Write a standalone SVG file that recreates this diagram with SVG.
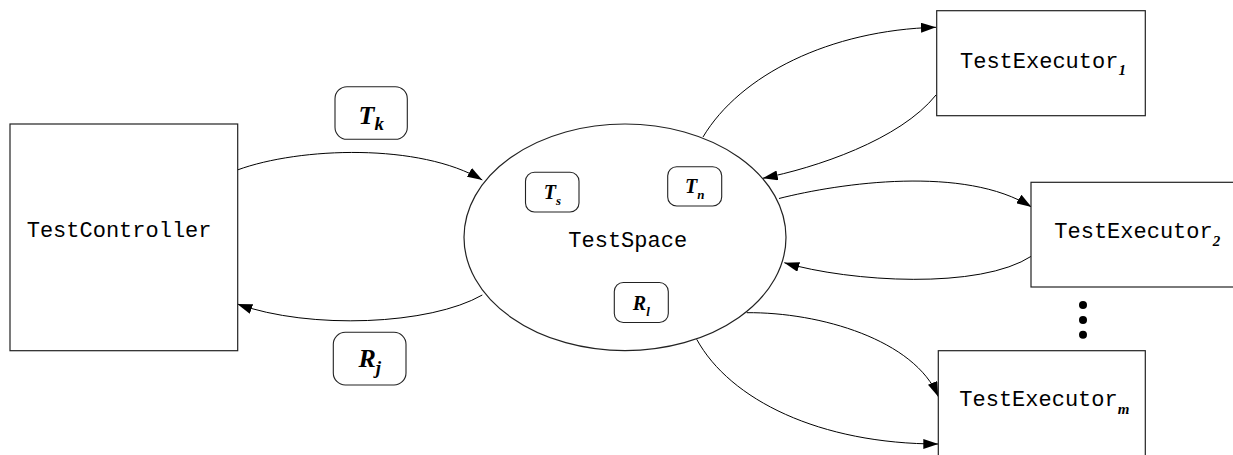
<svg xmlns="http://www.w3.org/2000/svg" width="1233" height="455" viewBox="0 0 1233 455">
  <style>
    .box { fill: #ffffff; stroke: #222; stroke-width: 1.2; }
    .tok { fill: #ffffff; stroke: #222; stroke-width: 1.1; }
    .mono { font-family: "Liberation Mono", "Courier New", monospace; font-size: 22px; fill: #000; }
    .math { font-family: "Liberation Serif", "Times New Roman", serif; font-weight: bold; font-style: italic; fill: #000; }
    .edge { fill: none; stroke: #000; stroke-width: 1; marker-end: url(#arrow); }
  </style>
  <defs>
    <marker id="arrow" markerUnits="userSpaceOnUse" markerWidth="16" markerHeight="10" refX="15" refY="5" orient="auto">
      <path d="M0,0 L15,5 L0,10 z" fill="#000"/>
    </marker>
  </defs>
  <rect width="1233" height="455" fill="#fff"/>

  <g id="connectors">
    <path class="edge" d="M237.3,170 C300,147 420,143 482.3,180"/>
    <path class="edge" d="M482.3,295 C430,325 310,330 237.3,304"/>
    <path class="edge" d="M703,137 C740,75 830,30 936,27.3"/>
    <path class="edge" d="M936,95 C900,140 815,168 762.7,178.3"/>
    <path class="edge" d="M779,198.5 C840,183 965,165 1031.5,207"/>
    <path class="edge" d="M1031.7,256 C980,290 850,282 784.3,262.7"/>
    <path class="edge" d="M746.7,312.7 C820,312 915,340 938.3,396.7"/>
    <path class="edge" d="M696.7,339.3 C730,400 820,444 938.3,444"/>
  </g>

  <g id="testController">
    <rect class="box" x="10" y="124" width="227.7" height="226.7"/>
    <text class="mono" x="26.7" y="237.3">TestController</text>
  </g>

  <g id="testSpace">
    <ellipse class="box" cx="625" cy="237.3" rx="161" ry="113.3"/>
    <text class="mono" x="568.3" y="247.3">TestSpace</text>
  </g>

  <g id="token-Ts">
    <rect class="tok" x="525.5" y="172.3" width="53.5" height="39.7" rx="9" ry="9"/>
    <text class="math" x="552.3" y="199.3" text-anchor="middle" font-size="20">T<tspan font-size="13" dy="5.5">s</tspan></text>
  </g>

  <g id="token-Tn">
    <rect class="tok" x="667.7" y="166.7" width="54" height="39.3" rx="9" ry="9"/>
    <text class="math" x="694.7" y="193.3" text-anchor="middle" font-size="20">T<tspan font-size="13" dy="5.5">n</tspan></text>
  </g>

  <g id="token-Rl">
    <rect class="tok" x="614.3" y="282.5" width="54" height="40" rx="9" ry="9"/>
    <text class="math" x="641.3" y="310" text-anchor="middle" font-size="20">R<tspan font-size="13" dy="5.5">l</tspan></text>
  </g>

  <g id="token-Tk">
    <rect class="tok" x="335" y="86.7" width="72.3" height="52.6" rx="12" ry="12"/>
    <text class="math" x="371.2" y="123.8" text-anchor="middle" font-size="26">T<tspan font-size="19" dy="6.5">k</tspan></text>
  </g>

  <g id="token-Rj">
    <rect class="tok" x="333.3" y="332.3" width="72.7" height="52.7" rx="12" ry="12"/>
    <text class="math" x="369.7" y="367" text-anchor="middle" font-size="26">R<tspan font-size="19" dy="6.5">j</tspan></text>
  </g>

  <g id="testExecutor1">
    <rect class="box" x="936.7" y="10.7" width="208.6" height="105"/>
    <text class="mono" x="960" y="67.7">TestExecutor<tspan class="math" font-size="15" dy="7">1</tspan></text>
  </g>

  <g id="testExecutor2">
    <rect class="box" x="1031" y="182.3" width="210" height="104.7"/>
    <text class="mono" x="1054.3" y="238.3">TestExecutor<tspan class="math" font-size="15" dy="7.5">2</tspan></text>
  </g>

  <g id="ellipsis">
    <circle cx="1083" cy="305" r="4" fill="#000"/>
    <circle cx="1083" cy="320" r="4" fill="#000"/>
    <circle cx="1083" cy="334.7" r="4" fill="#000"/>
  </g>

  <g id="testExecutorM">
    <rect class="box" x="938.3" y="350.7" width="207" height="110"/>
    <text class="mono" x="959.3" y="405.7">TestExecutor<tspan class="math" font-size="15" dy="8">m</tspan></text>
  </g>
</svg>
